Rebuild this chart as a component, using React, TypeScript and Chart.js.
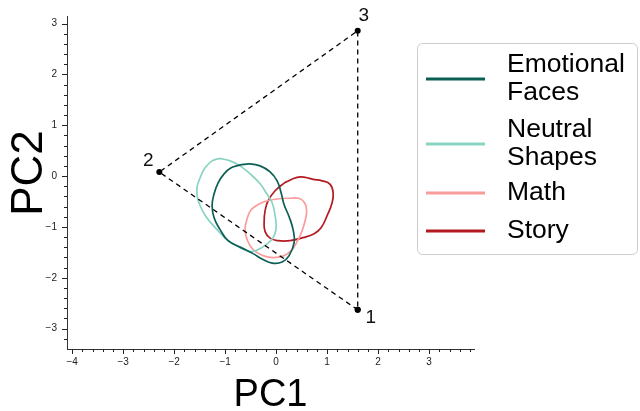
import React, { useEffect, useRef } from 'react';
import { Chart, registerables } from 'chart.js';

Chart.register(...registerables);

// ---- data ----
const seriesNames = ['Emotional Faces', 'Neutral Shapes', 'Math', 'Story'];
const legendText = [['Emotional', 'Faces'], ['Neutral', 'Shapes'], ['Math'], ['Story']];
const seriesColors = ['#0b5f55', '#8ad3c4', '#fa9c9c', '#b31b20'];

const emotionalX = [-0.706, -0.510, -0.314, -0.118, 0.020, 0.098, 0.157, 0.255, 0.333, 0.353, 0.255, 0.118, -0.078, -0.255, -0.451, -0.686, -0.941, -1.098, -1.216, -1.255, -1.216, -1.137, -1.020, -0.882];
const emotionalY = [0.222, 0.241, 0.202, 0.084, -0.092, -0.327, -0.563, -0.798, -1.053, -1.308, -1.563, -1.690, -1.710, -1.641, -1.524, -1.406, -1.269, -1.053, -0.818, -0.582, -0.347, -0.131, 0.045, 0.163];

const neutralX = [-1.098, -0.902, -0.706, -0.510, -0.314, -0.196, -0.078, -0.020, 0.000, -0.059, -0.196, -0.353, -0.510, -0.706, -0.941, -1.157, -1.373, -1.490, -1.549, -1.549, -1.490, -1.392, -1.255];
const neutralY = [0.349, 0.300, 0.202, 0.045, -0.151, -0.327, -0.524, -0.778, -1.033, -1.210, -1.347, -1.445, -1.484, -1.406, -1.269, -1.053, -0.798, -0.582, -0.386, -0.210, -0.033, 0.163, 0.300];

const mathX = [-0.392, -0.235, -0.020, 0.255, 0.471, 0.569, 0.598, 0.578, 0.510, 0.412, 0.294, 0.157, -0.059, -0.255, -0.451, -0.569, -0.608, -0.549, -0.490];
const mathY = [-0.582, -0.504, -0.455, -0.435, -0.445, -0.543, -0.680, -0.837, -1.073, -1.288, -1.465, -1.563, -1.602, -1.563, -1.445, -1.249, -1.033, -0.778, -0.661];

const storyX = [0.176, 0.412, 0.569, 0.725, 0.902, 1.059, 1.118, 1.098, 1.000, 0.882, 0.745, 0.529, 0.275, 0.039, -0.118, -0.216, -0.235, -0.216, -0.157, -0.020];
const storyY = [-0.122, -0.024, -0.024, -0.063, -0.092, -0.161, -0.327, -0.524, -0.778, -1.014, -1.131, -1.210, -1.269, -1.269, -1.220, -1.092, -0.896, -0.680, -0.484, -0.288];

const vertexLabels = ['1', '2', '3'];
const vertexX = [1.60, -2.29, 1.60];
const vertexY = [-2.63, 0.08, 2.86];

const xMin = -4.1, xMax = 3.88, yMin = -3.4, yMax = 3.15;
const tickStep = 0.2;

// ---- helpers ----
const closedLoop = (xs: number[], ys: number[]) => {
  const pts = xs.map((x, i) => ({ x, y: ys[i] }));
  pts.push({ ...pts[0] });
  return pts;
};
const fmt = (v: number) => (v < 0 ? '\u2212' + Math.abs(v) : String(v));
const isInt = (v: number) => Math.abs(v - Math.round(v)) < 1e-6;
const onStep = (v: number) => Math.abs(v / tickStep - Math.round(v / tickStep)) < 1e-6;
const FONT = '"Liberation Sans", Arial, Helvetica, sans-serif';

const decorations = {
  id: 'decorations',
  afterDraw(chart: any) {
    const ctx = chart.ctx as CanvasRenderingContext2D;
    const xs = chart.scales.x, ys = chart.scales.y;
    const area = chart.chartArea;
    ctx.save();
    // axis ticks (major + minor)
    ctx.strokeStyle = '#222';
    ctx.lineWidth = 1;
    xs.ticks.forEach((t: any) => {
      if (!onStep(t.value)) return;
      const px = Math.round(xs.getPixelForValue(t.value)) + 0.5;
      const len = isInt(t.value) ? 5 : 3;
      ctx.beginPath();
      ctx.moveTo(px, area.bottom);
      ctx.lineTo(px, area.bottom + len);
      ctx.stroke();
    });
    ys.ticks.forEach((t: any) => {
      if (!onStep(t.value)) return;
      const py = Math.round(ys.getPixelForValue(t.value)) + 0.5;
      const len = isInt(t.value) ? 5 : 3;
      ctx.beginPath();
      ctx.moveTo(area.left, py);
      ctx.lineTo(area.left - len, py);
      ctx.stroke();
    });
    // y axis title
    ctx.fillStyle = '#000';
    ctx.font = `44px ${FONT}`;
    ctx.textAlign = 'center';
    ctx.textBaseline = 'middle';
    ctx.save();
    ctx.translate(30, 173);
    ctx.rotate(-Math.PI / 2);
    ctx.fillText('PC2', 0, 0);
    ctx.restore();
    // vertex labels
    ctx.fillStyle = '#111';
    ctx.font = `19px ${FONT}`;
    ctx.textAlign = 'center';
    ctx.textBaseline = 'middle';
    const offsets = [[13, 8], [-11, -11], [6, -15]];
    vertexLabels.forEach((lab, i) => {
      const px = xs.getPixelForValue(vertexX[i]);
      const py = ys.getPixelForValue(vertexY[i]);
      ctx.fillText(lab, px + offsets[i][0], py + offsets[i][1]);
    });
    // legend
    const bx = 417.5, by = 43.5, bw = 220, bh = 211;
    ctx.beginPath();
    ctx.roundRect(bx, by, bw, bh, 5);
    ctx.fillStyle = 'rgba(255,255,255,0.9)';
    ctx.fill();
    ctx.strokeStyle = '#cccccc';
    ctx.lineWidth = 1;
    ctx.stroke();
    const rowY = [79, 144, 193, 231];
    ctx.font = `26.5px ${FONT}`;
    ctx.textAlign = 'left';
    ctx.textBaseline = 'middle';
    seriesNames.forEach((_, i) => {
      ctx.strokeStyle = seriesColors[i];
      ctx.lineWidth = 3;
      ctx.beginPath();
      ctx.moveTo(426, rowY[i]);
      ctx.lineTo(485, rowY[i]);
      ctx.stroke();
      ctx.fillStyle = '#000';
      const lines = legendText[i];
      const lh = 28;
      const y0 = rowY[i] - ((lines.length - 1) * lh) / 2;
      lines.forEach((ln, j) => ctx.fillText(ln, 507, y0 + j * lh));
    });
    ctx.restore();
  },
};

export default function App() {
  const ref = useRef<HTMLCanvasElement | null>(null);
  useEffect(() => {
    if (!ref.current) return;
    const series = [
      closedLoop(emotionalX, emotionalY),
      closedLoop(neutralX, neutralY),
      closedLoop(mathX, mathY),
      closedLoop(storyX, storyY),
    ];
    const triangle = [0, 1, 2, 0].map((i) => ({ x: vertexX[i], y: vertexY[i] }));
    const datasets: any[] = [
      {
        label: 'triangle',
        data: triangle,
        showLine: true,
        borderColor: '#000',
        borderWidth: 1.3,
        borderDash: [5, 4],
        pointRadius: 3,
        pointBackgroundColor: '#000',
        pointBorderWidth: 0,
        tension: 0,
      },
      ...series.map((d, i) => ({
        label: seriesNames[i],
        data: d,
        showLine: true,
        borderColor: seriesColors[i],
        borderWidth: 1.7,
        pointRadius: 0,
        tension: 0.45,
        fill: false,
      })),
    ];
    const axisCommon = {
      type: 'linear' as const,
      grid: { display: true, drawOnChartArea: false, drawTicks: false },
      border: { display: true, color: '#333', width: 1 },
    };
    const tickCommon = {
      stepSize: tickStep,
      maxTicksLimit: 1000,
      includeBounds: false,
      autoSkip: false,
      maxRotation: 0,
      color: '#222',
      font: { family: FONT, size: 10 },
      callback: (v: any) => (isInt(Number(v)) ? fmt(Math.round(Number(v))) : ''),
    };
    const chart = new Chart(ref.current, {
      type: 'scatter',
      data: { datasets },
      options: {
        animation: false,
        responsive: false,
        layout: { padding: { left: 0, top: 15, right: 166, bottom: 0 } },
        plugins: { legend: { display: false }, tooltip: { enabled: false } },
        scales: {
          x: {
            ...axisCommon,
            min: xMin,
            max: xMax,
            afterFit: (s: any) => { s.height = 62; },
            ticks: { ...tickCommon, padding: 7 },
            title: {
              display: true,
              text: 'PC1',
              color: '#000',
              font: { family: FONT, size: 38, lineHeight: 0.8 },
              padding: { top: 0, bottom: 0 },
            },
          },
          y: {
            ...axisCommon,
            min: yMin,
            max: yMax,
            afterFit: (s: any) => { s.width = 67; },
            ticks: { ...tickCommon, padding: 10 },
            title: { display: false },
          },
        },
      },
      plugins: [decorations],
    });
    return () => chart.destroy();
  }, []);
  return (
    <div style={{ position: 'absolute', left: 0, top: 0, width: 640, height: 411, background: '#fff' }}>
      <canvas ref={ref} width={640} height={411} />
    </div>
  );
}
